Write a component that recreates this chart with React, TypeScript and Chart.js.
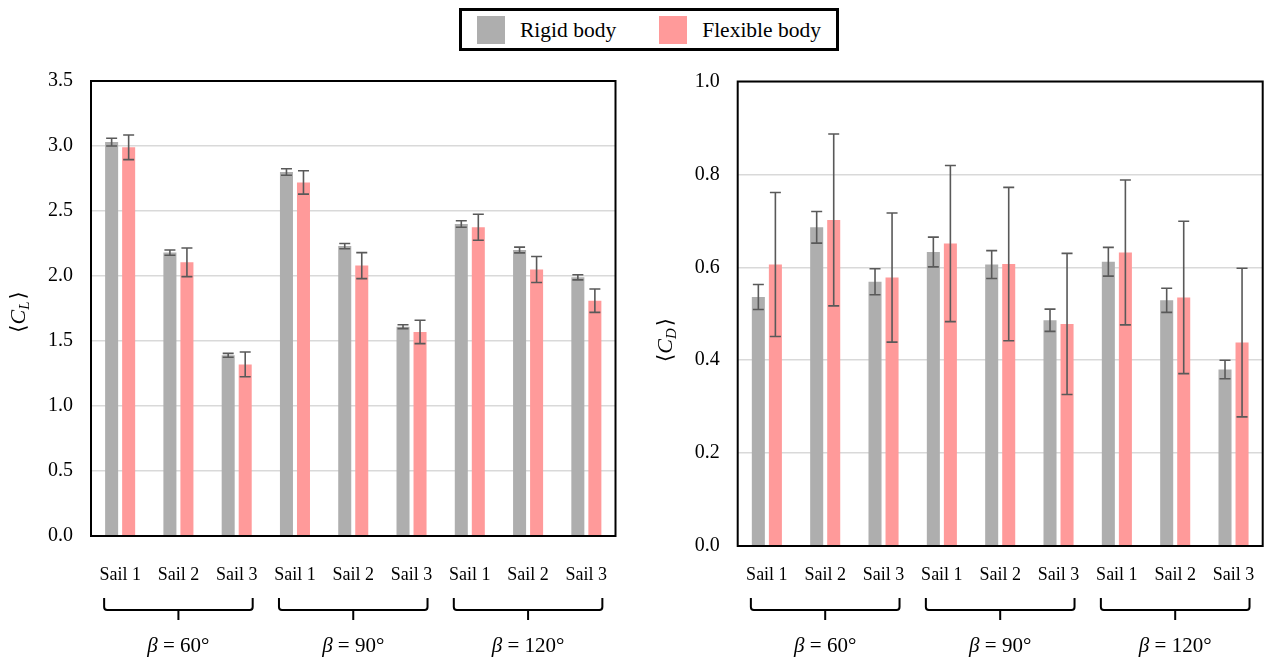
import React, { useEffect, useRef } from "react";
import { Chart, registerables } from "chart.js";

Chart.register(...registerables);

// ---------- data ----------
const categories = ["Sail 1", "Sail 2", "Sail 3", "Sail 1", "Sail 2", "Sail 3", "Sail 1", "Sail 2", "Sail 3"];
const groupLabels = ["60°", "90°", "120°"];
const seriesNames = ["Rigid body", "Flexible body"];

const rigidCL = [3.03, 2.18, 1.39, 2.80, 2.23, 1.61, 2.40, 2.20, 1.99];
const rigidCLErr = [0.03, 0.02, 0.015, 0.025, 0.02, 0.015, 0.025, 0.022, 0.02];
const flexCL = [2.99, 2.105, 1.32, 2.72, 2.08, 1.57, 2.375, 2.05, 1.81];
const flexCLErr = [0.095, 0.11, 0.095, 0.09, 0.10, 0.09, 0.10, 0.10, 0.09];

const rigidCD = [0.536, 0.686, 0.569, 0.633, 0.606, 0.486, 0.612, 0.529, 0.38];
const rigidCDErr = [0.027, 0.034, 0.028, 0.032, 0.03, 0.024, 0.031, 0.026, 0.02];
const flexCD = [0.606, 0.702, 0.578, 0.651, 0.607, 0.478, 0.632, 0.535, 0.438];
const flexCDErr = [0.155, 0.185, 0.139, 0.168, 0.165, 0.152, 0.156, 0.164, 0.16];

const clTicks = { min: 0, max: 3.5, step: 0.5 };
const cdTicks = { min: 0, max: 1.0, step: 0.2 };

// ---------- styles ----------
const GREY = "#aeaeae";
const PINK = "#ff9a9a";
const SERIF = "'Liberation Serif', serif";

type PanelOpts = {
  rigid: number[];
  rigidErr: number[];
  flex: number[];
  flexErr: number[];
  ticks: { min: number; max: number; step: number };
  sub: string;
  yAxisWidth: number;
  xAxisHeight: number;
  padTop: number;
  padRight: number;
  xTickPad: number;
  titleX: number;
  titleY: number;
};

function makeChart(canvas: HTMLCanvasElement, o: PanelOpts) {
  const errs = [o.rigidErr, o.flexErr];

  const panelPlugin = {
    id: "panelExtras",
    afterDatasetsDraw(chart: any) {
      const ctx = chart.ctx as CanvasRenderingContext2D;
      const y = chart.scales.y;
      ctx.save();
      ctx.strokeStyle = "#595959";
      ctx.lineWidth = 1.6;
      chart.data.datasets.forEach((ds: any, di: number) => {
        const meta = chart.getDatasetMeta(di);
        meta.data.forEach((bar: any, i: number) => {
          const v = ds.data[i] as number;
          const e = errs[di][i];
          const yt = y.getPixelForValue(v + e);
          const yb = y.getPixelForValue(v - e);
          const x = bar.x;
          const cap = 5.5;
          ctx.beginPath();
          ctx.moveTo(x, yt);
          ctx.lineTo(x, yb);
          ctx.moveTo(x - cap, yt);
          ctx.lineTo(x + cap, yt);
          ctx.moveTo(x - cap, yb);
          ctx.lineTo(x + cap, yb);
          ctx.stroke();
        });
      });
      ctx.restore();
    },
    afterDraw(chart: any) {
      const ctx = chart.ctx as CanvasRenderingContext2D;
      const a = chart.chartArea;
      const xs = chart.scales.x;
      ctx.save();
      ctx.strokeStyle = "#000";
      ctx.lineWidth = 2;
      ctx.strokeRect(a.left, a.top, a.right - a.left, a.bottom - a.top);
      ctx.restore();

      // braces & group labels
      const half = 16;
      const yTop = 538;
      const yMid = 550;
      const yStem = 560;
      ctx.save();
      ctx.strokeStyle = "#000";
      ctx.lineWidth = 2;
      groupLabels.forEach((g, gi) => {
        const x0 = xs.getPixelForValue(gi * 3) - half;
        const x1 = xs.getPixelForValue(gi * 3 + 2) + half;
        const xm = (x0 + x1) / 2;
        ctx.beginPath();
        ctx.moveTo(x0, yTop);
        ctx.lineTo(x0, yMid - 3);
        ctx.quadraticCurveTo(x0, yMid, x0 + 3, yMid);
        ctx.lineTo(x1 - 3, yMid);
        ctx.quadraticCurveTo(x1, yMid, x1, yMid - 3);
        ctx.lineTo(x1, yTop);
        ctx.moveTo(xm, yMid);
        ctx.lineTo(xm, yStem);
        ctx.stroke();

        const italic = "italic 21px " + SERIF;
        const normal = "21px " + SERIF;
        const p1 = "β";
        const p2 = " = " + g;
        ctx.font = italic;
        const w1 = ctx.measureText(p1).width;
        ctx.font = normal;
        const w2 = ctx.measureText(p2).width;
        const sx = xm - (w1 + w2) / 2;
        ctx.fillStyle = "#000";
        ctx.textBaseline = "middle";
        ctx.textAlign = "left";
        ctx.font = italic;
        ctx.fillText(p1, sx, 586);
        ctx.font = normal;
        ctx.fillText(p2, sx + w1, 586);
      });
      ctx.restore();

      // y-axis title ⟨C_sub⟩
      ctx.save();
      ctx.translate(o.titleX, o.titleY);
      ctx.rotate(-Math.PI / 2);
      ctx.fillStyle = "#000";
      ctx.textBaseline = "alphabetic";
      ctx.textAlign = "left";
      const fBr = "21px 'DejaVu Serif', " + SERIF;
      const fC = "italic 22px " + SERIF;
      const fS = "italic 15px " + SERIF;
      ctx.font = fBr;
      const wl = ctx.measureText("⟨").width;
      const wr = ctx.measureText("⟩").width;
      ctx.font = fC;
      const wc = ctx.measureText("C").width;
      ctx.font = fS;
      const ws = ctx.measureText(o.sub).width;
      const total = wl + wc + ws + wr + 2;
      let cx = -total / 2;
      const base = 7;
      ctx.font = fBr;
      ctx.fillText("⟨", cx, base);
      cx += wl;
      ctx.font = fC;
      ctx.fillText("C", cx, base);
      cx += wc;
      ctx.font = fS;
      ctx.fillText(o.sub, cx, base + 4);
      cx += ws + 2;
      ctx.font = fBr;
      ctx.fillText("⟩", cx, base);
      ctx.restore();
    },
  };

  return new Chart(canvas, {
    type: "bar",
    data: {
      labels: categories,
      datasets: [
        {
          label: seriesNames[0],
          data: o.rigid,
          backgroundColor: GREY,
          borderWidth: 0,
          categoryPercentage: 0.584,
          barPercentage: 0.765,
        },
        {
          label: seriesNames[1],
          data: o.flex,
          backgroundColor: PINK,
          borderWidth: 0,
          categoryPercentage: 0.584,
          barPercentage: 0.765,
        },
      ],
    },
    options: {
      responsive: false,
      animation: false,
      devicePixelRatio: 1,
      layout: { padding: { top: o.padTop, right: o.padRight, left: 0, bottom: 0 } },
      plugins: {
        legend: { display: false },
        tooltip: { enabled: false },
      },
      scales: {
        x: {
          type: "category",
          grid: { display: false, drawTicks: false },
          border: { display: false },
          ticks: {
            color: "#000",
            font: { family: SERIF, size: 18 },
            padding: o.xTickPad,
            maxRotation: 0,
            autoSkip: false,
          },
          afterFit(scale: any) {
            scale.height = o.xAxisHeight;
            scale.paddingLeft = 0;
            scale.paddingRight = 0;
          },
        },
        y: {
          min: o.ticks.min,
          max: o.ticks.max,
          grid: { color: "#d9d9d9", lineWidth: 1.5, drawTicks: false },
          border: { display: false },
          ticks: {
            stepSize: o.ticks.step,
            color: "#000",
            font: { family: SERIF, size: 20 },
            padding: 18,
            callback: (v: any) => Number(v).toFixed(1),
          },
          afterFit(scale: any) {
            scale.width = o.yAxisWidth;
            scale.paddingTop = 0;
            scale.paddingBottom = 0;
          },
        },
      },
    },
    plugins: [panelPlugin],
  } as any);
}

function Panel(props: { o: PanelOpts; left: number; width: number }) {
  const ref = useRef<HTMLCanvasElement | null>(null);
  useEffect(() => {
    if (!ref.current) return;
    const c = makeChart(ref.current, props.o);
    return () => c.destroy();
  }, []);
  return (
    <canvas
      ref={ref}
      width={props.width}
      height={599}
      style={{ position: "absolute", left: props.left, top: 60, width: props.width, height: 599 }}
    />
  );
}

const leftOpts: PanelOpts = {
  rigid: rigidCL,
  rigidErr: rigidCLErr,
  flex: flexCL,
  flexErr: flexCLErr,
  ticks: clTicks,
  sub: "L",
  yAxisWidth: 91,
  xAxisHeight: 123,
  padTop: 21,
  padRight: 14.5,
  xTickPad: 28,
  titleX: 18,
  titleY: 252,
};

const rightOpts: PanelOpts = {
  rigid: rigidCD,
  rigidErr: rigidCDErr,
  flex: flexCD,
  flexErr: flexCDErr,
  ticks: cdTicks,
  sub: "D",
  yAxisWidth: 107.7,
  xAxisHeight: 113,
  padTop: 21.5,
  padRight: 5.3,
  xTickPad: 18,
  titleX: 35,
  titleY: 280,
};

function Legend() {
  const item = (color: string, text: string, ml: number) => (
    <div style={{ display: "flex", alignItems: "center", marginLeft: ml }}>
      <div style={{ width: 28, height: 28, background: color }} />
      <span style={{ marginLeft: 15, fontFamily: SERIF, fontSize: 21.5, color: "#000", lineHeight: "28px" }}>{text}</span>
    </div>
  );
  return (
    <div
      style={{
        position: "absolute",
        left: 459,
        top: 8,
        width: 380,
        height: 43,
        boxSizing: "border-box",
        border: "3px solid #000",
        background: "#fff",
        display: "flex",
        alignItems: "center",
      }}
    >
      {item(GREY, seriesNames[0], 15)}
      {item(PINK, seriesNames[1], 43)}
    </div>
  );
}

export default function App() {
  return (
    <div style={{ position: "fixed", left: 0, top: 0, width: 1268, height: 659, background: "#fff", overflow: "hidden" }}>
      <Legend />
      <Panel o={leftOpts} left={0} width={630} />
      <Panel o={rightOpts} left={630} width={638} />
    </div>
  );
}
